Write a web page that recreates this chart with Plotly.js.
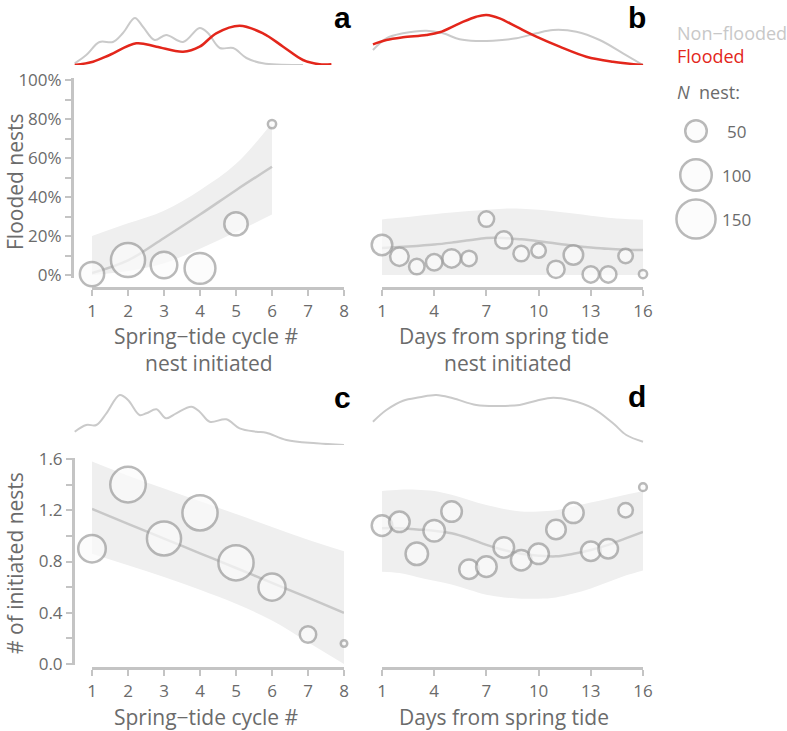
<!DOCTYPE html>
<html><head><meta charset="utf-8">
<script src="https://cdn.plot.ly/plotly-3.0.1.min.js"></script>
<style>body{margin:0;background:#fff}#chart{width:787px;height:731px}</style>
</head><body><div id="chart"></div>
<script>
// ---------- DATA ----------
// Panel a: flooded proportion by spring-tide cycle
const cycleA = [1, 2, 3, 4, 5, 6];
const floodA = [0.005, 0.077, 0.051, 0.034, 0.262, 0.774];
const nestsA = [62, 116, 73, 96, 58, 10];
const fitA   = [0.01, 0.075, 0.19, 0.31, 0.435, 0.555];
const upA    = [0.20, 0.265, 0.33, 0.435, 0.57, 0.78];
const loA    = [0.0, 0.02, 0.06, 0.135, 0.22, 0.31];

// Panel b: flooded proportion by days from spring tide
const dayB   = [1, 2, 3, 4, 5, 6, 7, 8, 9, 10, 11, 12, 13, 14, 15, 16];
const floodB = [0.154, 0.094, 0.043, 0.065, 0.085, 0.085, 0.287, 0.18, 0.11, 0.125, 0.029, 0.103, 0.003, 0.003, 0.097, 0.005];
const nestsB = [46, 38, 28, 31, 38, 28, 28, 34, 28, 25, 34, 42, 31, 31, 25, 10];
const fitB   = [0.138, 0.143, 0.149, 0.156, 0.166, 0.178, 0.19, 0.19, 0.183, 0.173, 0.161, 0.15, 0.141, 0.134, 0.13, 0.128];
const upB    = [0.285, 0.293, 0.302, 0.311, 0.32, 0.328, 0.335, 0.34, 0.34, 0.335, 0.326, 0.315, 0.304, 0.294, 0.287, 0.283];
const loB    = [0.0, 0.0, 0.0, 0.0, 0.0, 0.0, 0.0, 0.0, 0.0, 0.0, 0.0, 0.0, 0.0, 0.0, 0.0, 0.0];

// Panel c: # initiated nests by spring-tide cycle
const cycleC = [1, 2, 3, 4, 5, 6, 7, 8];
const initC  = [0.90, 1.40, 0.98, 1.18, 0.79, 0.60, 0.23, 0.16];
const nestsC = [78, 125, 116, 123, 123, 76, 31, 7];
const fitC   = [1.21, 1.094, 0.979, 0.864, 0.749, 0.633, 0.518, 0.40];
const upC    = [1.58, 1.47, 1.37, 1.27, 1.17, 1.07, 0.97, 0.88];
const loC    = [0.86, 0.77, 0.68, 0.58, 0.47, 0.34, 0.17, 0.0];

// Panel d: # initiated nests by days from spring tide
const dayD   = [1, 2, 3, 4, 5, 6, 7, 8, 9, 10, 11, 12, 13, 14, 15, 16];
const initD  = [1.08, 1.11, 0.86, 1.04, 1.19, 0.74, 0.76, 0.91, 0.81, 0.86, 1.05, 1.18, 0.88, 0.90, 1.20, 1.38];
const nestsD = [46, 46, 54, 50, 46, 42, 46, 46, 46, 46, 42, 46, 42, 42, 25, 9];
const fitD   = [1.06, 1.06, 1.05, 1.04, 1.02, 0.98, 0.93, 0.89, 0.86, 0.845, 0.84, 0.86, 0.89, 0.93, 0.98, 1.03];
const upD    = [1.35, 1.36, 1.36, 1.35, 1.32, 1.28, 1.24, 1.21, 1.19, 1.19, 1.20, 1.23, 1.26, 1.29, 1.32, 1.35];
const loD    = [0.72, 0.71, 0.68, 0.65, 0.62, 0.58, 0.54, 0.52, 0.51, 0.51, 0.52, 0.55, 0.59, 0.64, 0.69, 0.73];

// Density curves (marginal distributions)
const densAx      = [0.52, 0.84, 1.21, 1.58, 1.86, 2.19, 2.42, 2.74, 3.06, 3.53, 3.99, 4.22, 4.55, 4.92, 5.29, 5.75, 6.86];
const densAgrey   = [1.7, 10, 23, 23, 32, 47, 38, 25, 30, 23, 37, 32, 17, 17, 7, 1.7, 0];
const densAredX   = [0.52, 1.03, 1.49, 2.23, 2.79, 3.53, 3.99, 4.45, 5.10, 5.75, 6.31, 6.86, 7.32, 7.65];
const densAred    = [0, 3.3, 10, 21.7, 18.3, 13.3, 18.3, 31.7, 39.3, 31.7, 18.3, 5, 0.7, 0.7];
const densBx      = [0.48, 1.25, 2.21, 3.55, 4.51, 5.46, 6.42, 7.38, 8.72, 9.87, 10.83, 12.17, 13.51, 14.85, 16.0];
const densBgrey   = [15, 26.7, 31.7, 34.3, 31.7, 25.7, 24, 24.3, 26.7, 31.7, 35, 33.3, 25, 11.7, 0];
const densBredX   = [0.48, 1.25, 2.21, 3.55, 4.31, 5.46, 6.42, 7.0, 7.76, 8.72, 9.87, 11.21, 12.74, 14.27, 16.0];
const densBred    = [20.7, 25, 27.7, 30, 32.7, 41.7, 48.3, 50, 46.7, 38.3, 28.3, 18.3, 8.3, 3.3, 0];
const densCx      = [0.52, 0.84, 1.12, 1.40, 1.77, 2.00, 2.32, 2.51, 2.79, 3.06, 3.34, 3.76, 3.99, 4.27, 4.73, 5.10, 5.56, 5.84, 6.40, 7.23, 8.0];
const densCgrey   = [13.3, 20, 20, 31.7, 50, 45, 30, 31.7, 35.7, 26.7, 31.7, 38.3, 33.3, 23.3, 25.7, 16.7, 13.3, 12.3, 5, 1.7, 0];
const densDx      = [0.48, 1.25, 2.21, 3.16, 4.12, 5.08, 6.42, 7.76, 8.91, 9.87, 10.83, 11.79, 13.13, 14.28, 15.04, 16.0];
const densDgrey   = [23.3, 35, 44.3, 47.7, 50, 46.7, 40, 39, 40, 44.3, 47.3, 45, 36.7, 21.7, 10, 3.3];

// Tick labels / legend
const cycleTicks = [1, 2, 3, 4, 5, 6, 7, 8];
const dayTicks   = [1, 4, 7, 10, 13, 16];
const legendN    = [50, 100, 150];
const legendLab  = ['50', '100', '150'];
const seriesNames = ['Non\u2212flooded', 'Flooded'];

// ---------- STYLE ----------
const W = 787, H = 731;
const F = 'Open Sans, sans-serif';
const LC = '#c4c4c4', TC = '#6b6b6b', GREY = '#cacaca', RED = '#e3261b';
const BAND = '#efefef', FITC = '#c8c8c8';
const PX = x => x / W, PY = y => 1 - y / H;
const hdom = (a, b) => [a / W, b / W];
const vdom = (top, bottom) => [1 - bottom / H, 1 - top / H];
const K = 3.4; // px of diameter per sqrt(N)
const sz = arr => arr.map(n => K * Math.sqrt(n) - 2.5);

function band(x, lo, up, xa, ya) {
  return [
    {x: x, y: lo, xaxis: xa, yaxis: ya, mode: 'lines', line: {width: 0, shape: 'spline', color: BAND}, hoverinfo: 'skip', showlegend: false},
    {x: x, y: up, xaxis: xa, yaxis: ya, mode: 'lines', fill: 'tonexty', fillcolor: BAND, line: {width: 0, shape: 'spline', color: BAND}, hoverinfo: 'skip', showlegend: false}
  ];
}
function fit(x, y, xa, ya) {
  return {x: x, y: y, xaxis: xa, yaxis: ya, mode: 'lines', line: {color: FITC, width: 2.5, shape: 'spline'}, showlegend: false};
}
function pts(x, y, n, xa, ya) {
  return {x: x, y: y, xaxis: xa, yaxis: ya, mode: 'markers', cliponaxis: false, showlegend: false,
    marker: {size: sz(n), sizemode: 'diameter', color: '#fbfbfb', line: {color: '#9c9c9c', width: 2.5}}};
}
function dens(x, y, xa, ya, color, w) {
  return {x: x, y: y, xaxis: xa, yaxis: ya, mode: 'lines', cliponaxis: false, showlegend: false,
    line: {color: color, width: w, shape: 'spline', smoothing: 1}};
}

const traces = [].concat(
  band(cycleA, loA, upA, 'x', 'y'), [fit(cycleA, fitA, 'x', 'y'), pts(cycleA, floodA, nestsA, 'x', 'y')],
  band(dayB, loB, upB, 'x2', 'y'), [fit(dayB, fitB, 'x2', 'y'), pts(dayB, floodB, nestsB, 'x2', 'y')],
  band(cycleC, loC, upC, 'x3', 'y2'), [fit(cycleC, fitC, 'x3', 'y2'), pts(cycleC, initC, nestsC, 'x3', 'y2')],
  band(dayD, loD, upD, 'x4', 'y2'), [fit(dayD, fitD, 'x4', 'y2'), pts(dayD, initD, nestsD, 'x4', 'y2')],
  [
    dens(densAx, densAgrey, 'x5', 'y3', GREY, 2),
    dens(densAredX, densAred, 'x5', 'y3', RED, 2.5),
    dens(densBx, densBgrey, 'x6', 'y3', GREY, 2),
    dens(densBredX, densBred, 'x6', 'y3', RED, 2.5),
    dens(densCx, densCgrey, 'x7', 'y4', GREY, 2),
    dens(densDx, densDgrey, 'x8', 'y4', GREY, 2),
    {x: legendN.map(() => 0), y: legendN.map((_, i) => i), xaxis: 'x9', yaxis: 'y5', mode: 'markers', cliponaxis: false, showlegend: false,
     marker: {size: sz(legendN), sizemode: 'diameter', color: '#fbfbfb', line: {color: '#9c9c9c', width: 2.5}}}
  ]
);

const axBase = {showgrid: false, zeroline: false, showline: true, linecolor: LC, linewidth: 2.5,
  ticks: 'outside', ticklen: 6, tickwidth: 2, tickcolor: LC,
  tickfont: {family: F, size: 17, color: TC}, fixedrange: true};
const xBase = Object.assign({}, axBase, {ticklabelstandoff: 1});
const hidden = {visible: false, fixedrange: true};

const layout = {
  width: W, height: H, margin: {l: 0, r: 0, t: 0, b: 0},
  paper_bgcolor: '#fff', plot_bgcolor: 'rgba(0,0,0,0)', showlegend: false,
  font: {family: F, color: TC},
  xaxis:  Object.assign({}, xBase, {domain: hdom(92, 344), range: [1, 8], anchor: 'free', position: PY(288), tickmode: 'array', tickvals: cycleTicks}),
  xaxis2: Object.assign({}, xBase, {domain: hdom(382, 643), range: [1, 16], anchor: 'free', position: PY(288), tickmode: 'array', tickvals: dayTicks}),
  xaxis3: Object.assign({}, xBase, {domain: hdom(92, 344), range: [1, 8], anchor: 'free', position: PY(668), tickmode: 'array', tickvals: cycleTicks}),
  xaxis4: Object.assign({}, xBase, {domain: hdom(382, 643), range: [1, 16], anchor: 'free', position: PY(668), tickmode: 'array', tickvals: dayTicks}),
  yaxis:  Object.assign({}, axBase, {domain: vdom(78, 278), range: [-0.0154, 1.0103], anchor: 'free', position: PX(72),
            tickmode: 'linear', tick0: 0, dtick: 0.2, tickformat: '.0%',
            minor: {dtick: 0.1, ticks: 'outside', ticklen: 6, tickwidth: 2, tickcolor: LC}}),
  yaxis2: Object.assign({}, axBase, {domain: vdom(458, 665), range: [-0.0078, 1.6078], anchor: 'free', position: PX(73),
            tickmode: 'linear', tick0: 0, dtick: 0.4, tickformat: '.1f',
            minor: {dtick: 0.2, ticks: 'outside', ticklen: 6, tickwidth: 2, tickcolor: LC}}),
  xaxis5: Object.assign({}, hidden, {domain: hdom(56, 380), range: [0, 9], anchor: 'y3'}),
  xaxis6: Object.assign({}, hidden, {domain: hdom(364.6, 660.4), range: [0, 17], anchor: 'y3'}),
  xaxis7: Object.assign({}, hidden, {domain: hdom(56, 380), range: [0, 9], anchor: 'y4'}),
  xaxis8: Object.assign({}, hidden, {domain: hdom(364.6, 660.4), range: [0, 17], anchor: 'y4'}),
  yaxis3: Object.assign({}, hidden, {domain: vdom(5, 65), range: [0, 60], anchor: 'x5'}),
  yaxis4: Object.assign({}, hidden, {domain: vdom(385, 445), range: [0, 60], anchor: 'x7'}),
  xaxis9: Object.assign({}, hidden, {domain: hdom(660, 770), range: [-36, 74], anchor: 'y5'}),
  yaxis5: Object.assign({}, hidden, {domain: vdom(109, 241), range: [2.5, -0.5], anchor: 'x9'}),
  annotations: []
};

const ann = layout.annotations;
function txt(text, x, y, opts) {
  ann.push(Object.assign({text: text, xref: 'paper', yref: 'paper', x: PX(x), y: PY(y), showarrow: false, borderpad: 0,
    xanchor: 'center', yanchor: 'middle', font: {family: F, size: 21, color: TC}}, opts || {}));
}
// axis titles
txt('Spring\u2212tide cycle #', 206, 336);
txt('nest initiated', 209, 363);
txt('Days from spring tide', 504, 336);
txt('nest initiated', 508, 363);
txt('Spring\u2212tide cycle #', 206, 717);
txt('Days from spring tide', 504, 717);
txt('Flooded nests', 15, 182, {textangle: -90});
txt('# of initiated nests', 15, 563, {textangle: -90});
// panel letters
const letterFont = {family: 'Liberation Sans, Arial, sans-serif', size: 30, color: '#000', weight: 'bold'};
txt('<b>a</b>', 342, 17, {font: letterFont});
txt('<b>b</b>', 637, 17, {font: letterFont});
txt('<b>c</b>', 342, 397, {font: letterFont});
txt('<b>d</b>', 637, 396, {font: letterFont});
// legend text
txt(seriesNames[0], 676, 33, {xanchor: 'left', font: {family: F, size: 18, color: '#c8c8c8'}});
txt(seriesNames[1], 676, 56, {xanchor: 'left', font: {family: F, size: 18, color: RED}});
txt('<i>N</i>  nest:', 676, 92, {xanchor: 'left', font: {family: F, size: 18, color: TC}});
legendLab.forEach((t, i) => {
  ann.push({text: t, xref: 'x9', yref: 'y5', x: i === 0 ? 29 : 24, y: i, showarrow: false, xanchor: 'left', yanchor: 'middle',
    font: {family: F, size: 17, color: TC}});
});

Plotly.newPlot('chart', traces, layout, {staticPlot: true, displayModeBar: false});
</script>
</body></html>
